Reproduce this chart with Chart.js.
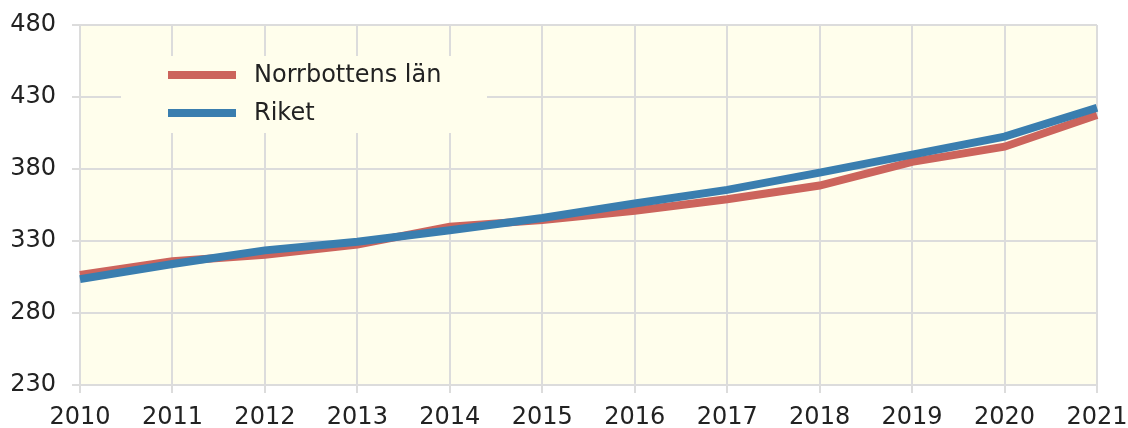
<!DOCTYPE html>
<html>
<head>
<meta charset="utf-8">
<script src="https://cdn.jsdelivr.net/npm/chart.js@4"></script>
<style>
  html, body { margin: 0; padding: 0; background: #ffffff; }
  #wrap { width: 1128px; height: 428px; }
</style>
</head>
<body>
<div id="wrap"><canvas id="chart" width="1128" height="428"></canvas></div>
<script>
// Data
const years = ['2010', '2011', '2012', '2013', '2014', '2015', '2016', '2017', '2018', '2019', '2020', '2021'];
const norrbotten = [306.5, 316, 320.5, 327.5, 340, 344.5, 351, 359, 368.5, 385, 395.5, 417.5];
const riket = [303.5, 314, 323.5, 329.5, 337.5, 346, 356, 365.5, 377.5, 390, 402.5, 422.5];
const seriesNames = ['Norrbottens län', 'Riket'];
const yTicks = [230, 280, 330, 380, 430, 480];

// Couleurs
const colors = {
    red: '#cc645c',
    blue: '#3a7eaf',
    plotBg: '#fffeec',
    grid: '#dcdcdc',
    text: '#222222'
};
const FONT = 'DejaVu Sans';

// Fond de la zone de tracé
const plotBackground = {
    id: 'plotBackground',
    beforeDraw(chart) {
        const { ctx, chartArea: a } = chart;
        ctx.save();
        ctx.fillStyle = colors.plotBg;
        ctx.fillRect(a.left, a.top, a.right - a.left, a.bottom - a.top);
        ctx.restore();
    }
};

// Légende dessinée dans la zone de tracé (masque la grille)
const innerLegend = {
    id: 'innerLegend',
    beforeDatasetsDraw(chart) {
        const { ctx } = chart;
        ctx.save();
        ctx.fillStyle = colors.plotBg;
        ctx.fillRect(121, 56, 366, 77);
        ctx.font = '24px "' + FONT + '"';
        ctx.textBaseline = 'middle';
        const rows = [
            { label: seriesNames[0], color: colors.red, y: 75 },
            { label: seriesNames[1], color: colors.blue, y: 113 }
        ];
        rows.forEach(r => {
            ctx.strokeStyle = r.color;
            ctx.lineWidth = 8;
            ctx.beginPath();
            ctx.moveTo(168, r.y);
            ctx.lineTo(236, r.y);
            ctx.stroke();
            ctx.fillStyle = colors.text;
            ctx.fillText(r.label, 254, r.y + 1);
        });
        ctx.restore();
    }
};

new Chart(document.getElementById('chart'), {
    type: 'line',
    data: {
        labels: years,
        datasets: [
            {
                label: seriesNames[0],
                data: norrbotten,
                borderColor: colors.red,
                backgroundColor: colors.red,
                borderWidth: 8,
                pointRadius: 0,
                tension: 0,
                order: 1
            },
            {
                label: seriesNames[1],
                data: riket,
                borderColor: colors.blue,
                backgroundColor: colors.blue,
                borderWidth: 8,
                pointRadius: 0,
                tension: 0,
                order: 0
            }
        ]
    },
    options: {
        responsive: false,
        animation: false,
        layout: { padding: { left: 0, right: 31, top: 25, bottom: 0 } },
        plugins: {
            legend: { display: false },
            tooltip: { enabled: false }
        },
        scales: {
            x: {
                offset: false,
                grid: { color: colors.grid, lineWidth: 2, tickLength: 8, drawTicks: true },
                border: { color: colors.grid, width: 2 },
                ticks: {
                    color: colors.text,
                    font: { family: FONT, size: 24 },
                    padding: 10,
                    maxRotation: 0,
                    autoSkip: false
                },
                afterFit: s => { s.height = 43; s.paddingLeft = 0; s.paddingRight = 0; }
            },
            y: {
                min: 230,
                max: 480,
                grid: { color: colors.grid, lineWidth: 2, tickLength: 8 },
                border: { color: colors.grid, width: 2 },
                afterBuildTicks: s => { s.ticks = yTicks.map(v => ({ value: v })); },
                ticks: {
                    color: colors.text,
                    font: { family: FONT, size: 24 },
                    padding: 16
                },
                afterFit: s => { s.width = 80; s.paddingTop = 0; s.paddingBottom = 0; }
            }
        }
    },
    plugins: [plotBackground, innerLegend]
});
</script>
</body>
</html>
